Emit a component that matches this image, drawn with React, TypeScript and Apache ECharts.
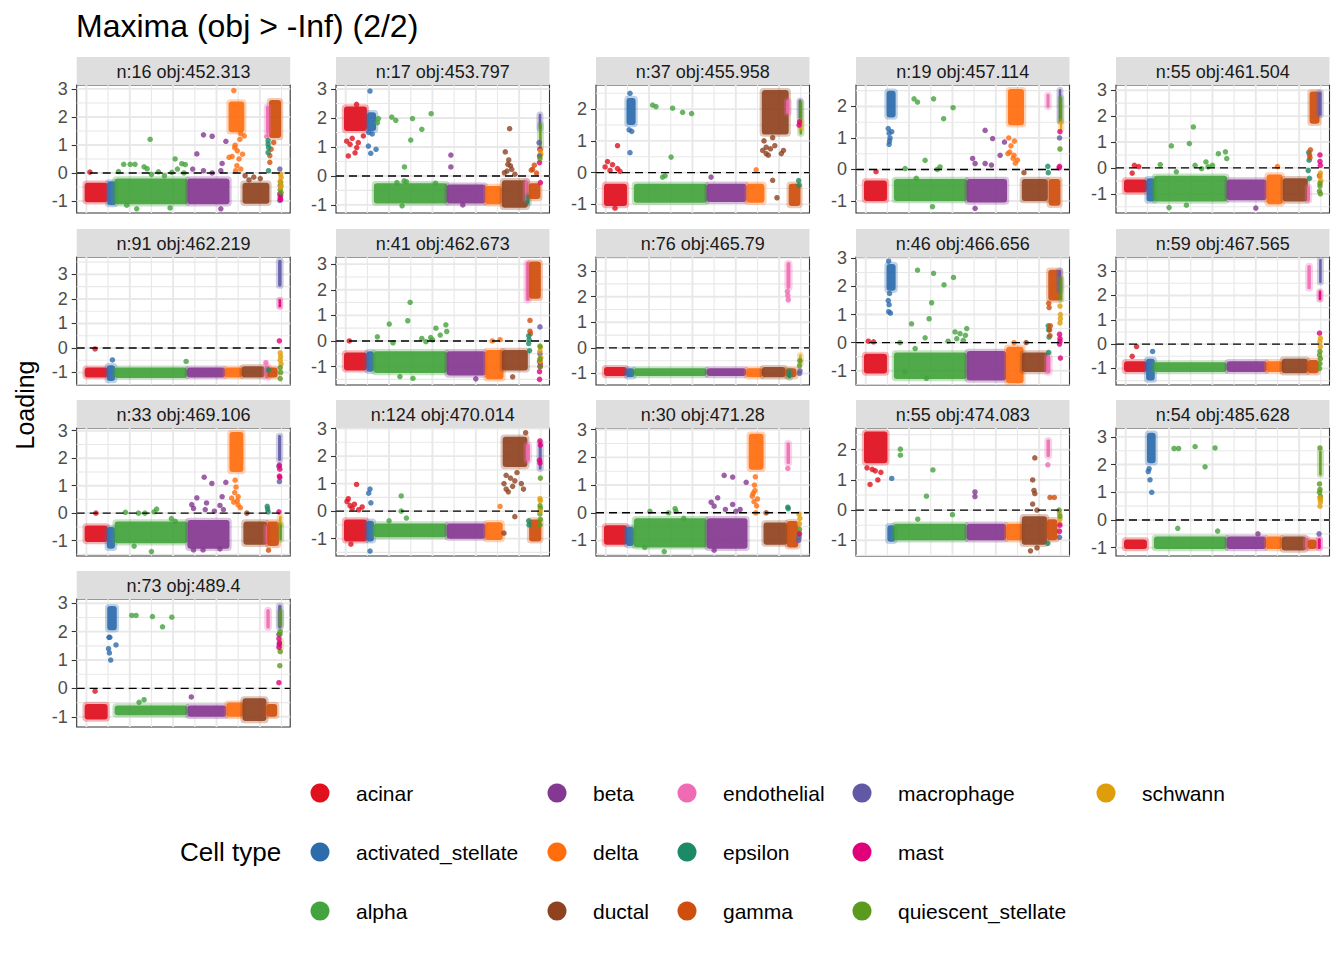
import React, { useEffect, useRef } from "react";
import * as echarts from "echarts";

// ---------- data ----------
const CELL_TYPES = ["acinar", "activated_stellate", "alpha", "beta", "delta", "ductal", "endothelial", "epsilon", "gamma", "macrophage", "mast", "quiescent_stellate", "schwann"];
const TYPE_COLORS = ["#E0101E", "#2D6CAC", "#43A33C", "#853891", "#FF6D0D", "#8F4220", "#F06AB4", "#1B8A66", "#CF4E0C", "#6159A6", "#E0007A", "#5A9A1C", "#E09D0A"];

const PANEL_TITLES = ["n:16 obj:452.313", "n:17 obj:453.797", "n:37 obj:455.958", "n:19 obj:457.114", "n:55 obj:461.504", "n:91 obj:462.219", "n:41 obj:462.673", "n:76 obj:465.79", "n:46 obj:466.656", "n:59 obj:467.565", "n:33 obj:469.106", "n:124 obj:470.014", "n:30 obj:471.28", "n:55 obj:474.083", "n:54 obj:485.628", "n:73 obj:489.4"];

const PANEL_Y_RANGES = [[-1.43, 3.14], [-1.28, 3.14], [-1.27, 2.76], [-1.38, 2.68], [-1.74, 3.2], [-1.51, 3.71], [-1.72, 3.28], [-1.45, 3.55], [-1.51, 3.05], [-1.68, 3.58], [-1.56, 3.1], [-1.63, 3.02], [-1.56, 3.06], [-1.52, 2.72], [-1.3, 3.32], [-1.36, 3.15]];
const Y_TICKS = [-1, 0, 1, 2, 3];
const X_MAJOR = [0, 1000, 2000, 3000, 4000];
const X_MINOR = [500, 1500, 2500, 3500, 4500];
const X_RANGE = [-224, 4700];

// clusters: [type, xStart, xEnd, yLow, yHigh]; points: [type, x, y]
const P1_BANDS = [[0, -40, 490, -1.05, -0.35], [1, 480, 680, -1.15, -0.3], [2, 650, 2340, -1.12, -0.2], [3, 2330, 3300, -1.12, -0.2], [4, 3280, 3640, 1.45, 2.55], [5, 3600, 4220, -1.1, -0.35], [8, 4210, 4490, 1.25, 2.6], [6, 4140, 4210, 1.4, 2.4]];
const P1_POINTS = [[0, 80, 0.03], [2, 1470, 1.2], [2, 860, 0.31], [2, 1010, 0.31], [2, 1120, 0.31], [2, 1330, 0.22], [2, 1400, 0.15], [2, 2046, 0.5], [2, 2200, 0.33], [2, 2280, 0.3], [2, 2100, 0.14], [2, 740, 0.05], [2, 1660, 0.04], [2, 1970, 0.02], [2, 1160, -1.28], [2, 1930, -1.25], [2, 930, -1.15], [2, 1500, -0.05], [2, 1800, -0.1], [2, 2250, 0.0], [3, 2700, 1.36], [3, 2900, 1.31], [3, 2547, 0.68], [3, 3217, 1.13], [3, 3130, 0.34], [3, 3100, 0.08], [3, 2700, 0.08], [3, 2450, 0.14], [3, 3100, -1.28], [3, 2900, 0.0], [4, 3400, 2.94], [4, 3560, 1.4], [4, 3430, 0.99], [4, 3480, 0.79], [4, 3600, 0.67], [4, 3360, 0.59], [4, 3290, 0.56], [4, 3520, 0.5], [4, 3470, 0.26], [4, 3560, 0.14], [4, 3440, 0.08], [4, 3640, 1.32], [4, 3420, 0.9], [4, 3540, 1.2], [5, 3660, -0.1], [5, 3860, -0.15], [5, 4010, -0.2], [5, 3750, -0.25], [8, 4230, 0.62], [8, 4230, 0.38], [8, 4320, 1.09], [8, 4260, 0.85], [6, 4160, 1.3], [7, 4190, 1.15], [7, 4190, 1.03], [7, 4200, 0.91], [7, 4190, 0.73], [7, 4200, 0.08], [9, 4460, 0.14], [9, 4470, -0.45], [9, 4480, -0.8], [9, 4460, -0.98], [10, 4470, -0.87], [10, 4460, -0.75], [10, 4480, -0.95], [11, 4480, -0.33], [11, 4470, -0.6], [11, 4490, -0.7], [12, 4480, -0.04], [12, 4490, -0.16], [12, 4470, -0.3], [12, 4480, -0.5], [12, 4490, -0.45]];

const P2_BANDS = [[0, -40, 490, 1.55, 2.4], [1, 490, 700, 1.55, 2.2], [2, 650, 2340, -0.95, -0.25], [3, 2330, 3230, -0.95, -0.3], [4, 3220, 3600, -0.98, -0.35], [5, 3600, 4200, -1.1, -0.15], [6, 4130, 4210, -0.85, -0.15], [7, 4170, 4240, -0.98, -0.65], [8, 4220, 4490, -0.8, -0.25], [9, 4450, 4510, 1.6, 2.15], [11, 4460, 4520, 0.9, 1.8]];
const P2_POINTS = [[0, 22, 1.2], [0, 100, 1.09], [0, 254, 0.98], [0, 60, 0.69], [0, 215, 0.8], [0, 407, 1.38], [0, 290, 1.15], [0, 250, 2.47], [0, 150, 1.3], [1, 560, 2.93], [1, 523, 1.03], [1, 577, 0.78], [1, 700, 0.92], [1, 530, 1.5], [1, 610, 1.45], [2, 754, 1.98], [2, 731, 1.84], [2, 1062, 2.03], [2, 1155, 1.92], [2, 1540, 1.98], [2, 1970, 2.15], [2, 1755, 1.61], [2, 1500, 1.24], [2, 1355, 0.31], [2, 1347, -0.17], [2, 1400, -0.2], [2, 1180, -0.23], [2, 2070, -0.25], [2, 1300, -1.03], [3, 2425, 0.72], [3, 2425, 0.31], [3, 2700, -1.0], [5, 3780, 1.63], [5, 3680, 0.83], [5, 3760, 0.55], [5, 3740, 0.4], [5, 3800, 0.35], [5, 3660, 0.11], [5, 3720, 0.17], [5, 3830, 0.23], [5, 3900, 0.06], [8, 4310, 0.23], [8, 4350, 0.37], [8, 4280, 0.2], [8, 4400, 0.1], [10, 4480, 0.92], [10, 4470, 0.46], [10, 4490, -0.23], [12, 4490, 0.86], [12, 4500, 0.75], [12, 4480, 0.69], [9, 4460, 1.15], [9, 4470, 0.69], [11, 4480, 0.6]];

const P3_BANDS = [[0, -40, 490, -1.05, -0.35], [1, 480, 690, 1.5, 2.35], [2, 650, 2340, -0.95, -0.35], [3, 2330, 3250, -0.92, -0.35], [4, 3250, 3660, -0.95, -0.35], [5, 3600, 4220, 1.2, 2.6], [8, 4220, 4490, -1.05, -0.35], [6, 4160, 4240, 1.85, 2.3], [9, 4450, 4510, 1.7, 2.3], [11, 4470, 4530, 1.2, 2.25], [12, 4480, 4530, 1.35, 1.65]];
const P3_POINTS = [[0, 42, 0.35], [0, 157, 0.25], [0, -14, 0.18], [0, 272, 0.13], [0, 330, 0.04], [0, 100, 0.07], [0, 215, -1.12], [0, 272, 0.85], [1, 560, 2.5], [1, 540, 1.35], [1, 600, 1.3], [1, 560, 0.63], [2, 1081, 2.13], [2, 1160, 2.08], [2, 1543, 2.03], [2, 1773, 1.9], [2, 1980, 1.86], [2, 1508, 0.49], [2, 1370, -0.1], [2, 1310, -0.14], [3, 2430, -0.14], [4, 3470, 0.09], [5, 3650, 1.0], [5, 3700, 0.8], [5, 3620, 0.7], [5, 3800, 0.75], [5, 3900, 0.85], [5, 4100, 0.7], [5, 4050, 0.6], [5, 3750, 0.55], [5, 3850, 1.1], [5, 3700, 0.6], [5, 3850, -0.24], [5, 3950, -0.79], [10, 4460, 1.5], [10, 4470, 1.6], [7, 4450, -0.25], [7, 4460, -0.4]];

const P4_BANDS = [[0, -40, 490, -1.0, -0.35], [1, 480, 690, 1.65, 2.5], [2, 650, 2340, -1.0, -0.3], [3, 2330, 3260, -1.05, -0.3], [4, 3280, 3650, 1.4, 2.55], [5, 3600, 4200, -1.0, -0.3], [8, 4220, 4490, -1.15, -0.3], [6, 4170, 4240, 1.95, 2.4], [9, 4450, 4510, 1.5, 2.55], [11, 4470, 4530, 1.5, 2.3], [12, 4480, 4530, 1.25, 1.55]];
const P4_POINTS = [[0, 238, -0.07], [1, 520, 1.3], [1, 540, 1.15], [1, 560, 1.0], [1, 540, 0.8], [1, 600, 1.2], [1, 550, 0.9], [2, 1115, 2.24], [2, 1195, 2.14], [2, 1565, 2.24], [2, 2015, 1.96], [2, 1797, 1.61], [2, 1370, 0.29], [2, 909, 0.03], [2, 1715, 0.08], [2, 1650, 0.0], [2, 1540, -1.18], [2, 1166, -0.28], [3, 2754, 1.24], [3, 2927, 0.98], [3, 3100, 0.45], [3, 2465, 0.35], [3, 2523, 0.19], [3, 2754, 0.19], [3, 2900, 0.14], [3, 3200, 0.87], [3, 2523, -1.23], [4, 3300, 1.0], [4, 3350, 0.75], [4, 3320, 0.55], [4, 3400, 0.35], [4, 3450, 0.2], [4, 3420, 0.45], [4, 3280, 0.5], [4, 3500, 0.3], [4, 3430, 0.9], [5, 3650, -0.1], [10, 4460, 0.05], [10, 4470, 0.1], [10, 4480, 1.2], [7, 4200, 0.1], [7, 4210, -0.1], [9, 4470, 1.0], [11, 4480, 0.65]];

const P5_BANDS = [[0, -40, 490, -0.95, -0.45], [1, 480, 680, -1.3, -0.4], [2, 650, 2340, -1.3, -0.3], [3, 2330, 3250, -1.25, -0.45], [4, 3250, 3620, -1.4, -0.25], [5, 3620, 4200, -1.3, -0.4], [6, 4180, 4250, -1.3, -0.7], [8, 4240, 4470, 1.7, 2.95], [9, 4440, 4520, 2.0, 2.95]];
const P5_POINTS = [[0, 300, 0.05], [0, 200, 0.1], [0, 150, -0.2], [2, 1052, 0.85], [2, 1468, 0.94], [2, 1560, 1.58], [2, 797, 0.13], [2, 1167, -0.15], [2, 2137, 0.55], [2, 2300, 0.62], [2, 1850, 0.23], [2, 2000, 0.1], [2, 1900, 0.04], [2, 2330, 0.36], [2, 1750, -0.03], [2, 1600, 0.1], [2, 1000, -1.53], [2, 1400, -1.44], [3, 3000, -1.55], [4, 3500, 0.05], [7, 4220, 0.6], [7, 4230, 0.3], [7, 4210, -0.1], [7, 4240, -0.4], [8, 4250, 0.4], [8, 4260, 0.7], [8, 4240, 0.5], [10, 4480, 0.5], [10, 4490, 0.1], [10, 4470, -0.3], [10, 4480, 0.25], [12, 4490, -0.2], [12, 4480, -0.35], [12, 4500, -0.5], [11, 4480, -0.7], [11, 4470, -0.9], [11, 4490, -1.0], [11, 4480, -0.6]];

const P6_BANDS = [[0, -40, 490, -1.2, -0.8], [1, 470, 660, -1.35, -0.7], [2, 650, 2320, -1.22, -0.8], [3, 2320, 3200, -1.2, -0.8], [4, 3190, 3590, -1.2, -0.8], [5, 3580, 4110, -1.2, -0.75], [6, 4110, 4220, -1.25, -0.7], [8, 4170, 4410, -1.2, -0.8], [9, 4420, 4500, 2.5, 3.6], [10, 4430, 4490, 1.65, 2.0]];
const P6_POINTS = [[0, 200, -0.04], [1, 600, -0.49], [2, 2300, -0.55], [6, 4140, -0.6], [10, 4450, 0.29], [12, 4470, -0.2], [12, 4480, -0.35], [12, 4470, -0.5], [12, 4490, -0.65], [11, 4470, -0.8], [11, 4480, -1.0], [11, 4470, -1.25], [7, 4200, -0.9]];

const P7_BANDS = [[0, -40, 490, -1.15, -0.45], [1, 480, 650, -1.2, -0.4], [2, 650, 2340, -1.25, -0.4], [3, 2330, 3230, -1.35, -0.4], [4, 3220, 3640, -1.5, -0.35], [5, 3600, 4200, -1.15, -0.35], [6, 4150, 4240, 1.55, 3.1], [8, 4230, 4500, 1.65, 3.1]];
const P7_POINTS = [[0, 83, 0.0], [2, 1486, 1.51], [2, 1004, 0.66], [2, 1431, 0.79], [2, 730, 0.16], [2, 1090, -0.07], [2, 1755, 0.1], [2, 1960, 0.13], [2, 2080, 0.5], [2, 2310, 0.63], [2, 2330, 0.37], [2, 2180, 0.23], [2, 2000, 0.04], [2, 1850, -0.03], [2, 1550, -1.46], [2, 1250, -1.39], [3, 3000, -1.48], [4, 3380, 0.0], [4, 3560, 0.05], [5, 3850, -1.4], [8, 4250, 0.8], [8, 4250, 0.38], [8, 4260, 0.28], [7, 4220, 0.2], [7, 4230, 0.05], [7, 4220, -0.1], [7, 4240, -0.38], [9, 4480, 0.55], [9, 4470, -0.8], [9, 4480, -0.5], [10, 4480, -1.0], [10, 4470, -1.2], [10, 4470, -1.5], [10, 4490, -0.9], [12, 4490, -0.25], [12, 4480, -0.4], [12, 4500, -0.65], [12, 4490, -0.8], [11, 4480, -0.2], [11, 4480, -0.7], [11, 4490, -1.0]];

const P8_BANDS = [[0, -40, 490, -1.1, -0.75], [1, 470, 660, -1.15, -0.8], [2, 650, 2330, -1.1, -0.8], [3, 2330, 3240, -1.1, -0.8], [4, 3240, 3620, -1.15, -0.8], [5, 3600, 4150, -1.15, -0.75], [8, 4150, 4400, -1.15, -0.8], [7, 4200, 4270, -1.2, -0.85], [6, 4170, 4260, 2.3, 3.35], [12, 4460, 4520, -0.65, -0.25]];
const P8_POINTS = [[6, 4200, 2.05], [6, 4210, 1.88], [6, 4190, 2.2], [9, 4470, -1.0], [9, 4480, -0.9], [11, 4470, -0.7], [11, 4480, -0.5]];

const P9_BANDS = [[0, -40, 490, -1.1, -0.4], [1, 480, 690, 1.85, 2.8], [2, 650, 2330, -1.3, -0.35], [3, 2330, 3240, -1.35, -0.3], [4, 3240, 3640, -1.45, -0.15], [5, 3600, 4200, -1.05, -0.35], [6, 4160, 4260, -1.1, -0.45], [8, 4210, 4500, 1.5, 2.6], [9, 4440, 4510, 1.8, 2.6], [11, 4470, 4530, 1.5, 2.3]];
const P9_POINTS = [[0, 60, 0.05], [0, 180, 0.03], [1, 520, 1.5], [1, 540, 1.35], [1, 530, 1.1], [1, 570, 1.05], [1, 550, 1.75], [1, 530, 2.9], [2, 1195, 2.58], [2, 1565, 2.47], [2, 2025, 2.32], [2, 1806, 2.06], [2, 1520, 1.42], [2, 1462, 0.85], [2, 1057, 0.67], [2, 1370, 0.17], [2, 790, 0.0], [2, 2060, 0.38], [2, 2176, 0.32], [2, 2330, 0.5], [2, 2300, 0.26], [2, 1900, 0.05], [2, 2250, 0.08], [2, 2100, 0.14], [2, 1140, -0.21], [2, 900, -1.04], [2, 1400, -1.27], [4, 3420, 0.0], [5, 3700, 0.0], [8, 4220, 1.4], [8, 4230, 1.25], [12, 4480, 1.3], [12, 4490, 1.0], [12, 4490, 0.85], [12, 4480, 0.7], [10, 4470, 0.3], [10, 4480, 0.05], [10, 4470, -0.05], [10, 4490, -0.55], [10, 4480, 0.15], [7, 4210, 0.6], [7, 4220, 0.45], [7, 4230, 0.2], [7, 4220, -0.35], [8, 4240, 0.45], [8, 4250, 0.25], [8, 4260, 0.6]];

const P10_BANDS = [[0, -40, 490, -1.15, -0.7], [1, 470, 670, -1.5, -0.6], [2, 650, 2330, -1.15, -0.75], [3, 2330, 3260, -1.15, -0.7], [4, 3240, 3620, -1.15, -0.7], [5, 3600, 4200, -1.2, -0.6], [8, 4200, 4450, -1.2, -0.65], [6, 4190, 4270, 2.25, 3.25], [9, 4460, 4520, 2.5, 3.5], [10, 4450, 4510, 1.8, 2.2]];
const P10_POINTS = [[0, 250, -0.1], [0, 150, -0.5], [1, 620, -0.3], [10, 4470, 0.45], [12, 4490, 0.25], [12, 4480, 0.1], [12, 4490, -0.1], [11, 4480, -0.3], [11, 4470, -0.45], [11, 4490, -0.6], [11, 4480, -0.8], [11, 4470, -1.0]];

const P11_BANDS = [[0, -40, 490, -1.05, -0.45], [1, 470, 660, -1.3, -0.5], [2, 650, 2330, -1.1, -0.3], [3, 2330, 3300, -1.3, -0.25], [4, 3300, 3620, 1.5, 2.95], [5, 3620, 4170, -1.15, -0.3], [6, 4130, 4220, -1.1, -0.45], [8, 4170, 4440, -1.2, -0.3], [9, 4420, 4490, 1.9, 2.85], [12, 4440, 4500, -0.45, -0.1], [11, 4450, 4510, -1.0, -0.4]];
const P11_POINTS = [[0, 220, 0.0], [2, 900, 0.03], [2, 1200, 0.0], [2, 1350, 0.0], [2, 1560, 0.05], [2, 1620, 0.15], [2, 1960, -0.2], [2, 2050, -0.3], [2, 1500, -1.4], [2, 1100, -1.2], [3, 2716, 1.31], [3, 2893, 1.08], [3, 3216, 1.12], [3, 2547, 0.56], [3, 2770, 0.37], [3, 3130, 0.6], [3, 2430, 0.31], [3, 2470, 0.17], [3, 2740, 0.13], [3, 3080, 0.28], [3, 3160, 0.13], [3, 2950, 0.07], [3, 2470, -1.34], [3, 2690, -1.34], [3, 3080, -1.3], [4, 3430, 1.2], [4, 3450, 0.95], [4, 3420, 0.75], [4, 3350, 0.55], [4, 3500, 0.6], [4, 3400, 0.4], [4, 3500, 0.3], [4, 3550, 0.2], [4, 3480, 0.45], [5, 3700, 0.0], [8, 4200, -1.35], [7, 4170, 0.25], [7, 4180, 0.15], [7, 4190, 0.05], [9, 4440, 1.7], [9, 4450, 1.15], [10, 4450, 1.75], [10, 4460, 1.6], [10, 4450, 1.35], [10, 4460, 1.3], [10, 4440, 0.05]];

const P12_BANDS = [[0, -40, 490, -1.1, -0.3], [1, 480, 650, -1.1, -0.35], [2, 650, 2330, -0.95, -0.45], [3, 2330, 3230, -1.0, -0.45], [4, 3220, 3620, -1.05, -0.4], [5, 3620, 4190, 1.6, 2.7], [6, 4150, 4250, 1.8, 2.45], [8, 4230, 4510, -1.1, -0.3], [9, 4450, 4520, 1.5, 2.5]];
const P12_POINTS = [[0, 60, 0.45], [0, 30, 0.35], [0, 100, 0.2], [0, 200, 0.25], [0, 150, 0.1], [0, 300, 0.05], [0, 380, 0.15], [0, 250, 0.97], [0, 120, -1.2], [1, 560, 0.8], [1, 530, 0.65], [1, 580, 0.3], [1, 560, -1.45], [2, 1280, 0.55], [2, 1280, 0.0], [2, 1400, -0.25], [2, 1000, -0.35], [4, 3560, 0.17], [5, 3700, 1.3], [5, 3650, 1.0], [5, 3700, 0.8], [5, 3750, 0.7], [5, 3850, 0.9], [5, 3900, 1.1], [5, 3800, 1.2], [5, 4100, 0.8], [5, 4050, 1.0], [5, 3950, 1.4], [5, 4150, 2.85], [5, 3650, -0.8], [5, 3900, -0.2], [7, 4220, -0.35], [7, 4230, -0.5], [10, 4480, 2.55], [10, 4470, 1.85], [10, 4480, 1.75], [10, 4490, 2.4], [11, 4490, 1.2], [11, 4480, 0.2], [11, 4490, 0.1], [11, 4480, -0.1], [11, 4490, -0.3], [11, 4480, -0.5], [12, 4480, 0.45], [12, 4490, 0.38], [12, 4480, 0.0]];

const P13_BANDS = [[0, -40, 490, -1.15, -0.45], [1, 470, 650, -1.2, -0.5], [2, 650, 2330, -1.25, -0.2], [3, 2330, 3270, -1.3, -0.2], [4, 3300, 3640, 1.55, 2.85], [5, 3640, 4190, -1.15, -0.35], [8, 4180, 4440, -1.25, -0.3], [6, 4170, 4250, 1.75, 2.55]];
const P13_POINTS = [[2, 1020, 0.05], [2, 1450, 0.0], [2, 1600, 0.15], [2, 1620, 0.05], [2, 1800, -0.2], [2, 1350, -1.4], [2, 900, -1.25], [3, 2732, 1.35], [3, 2928, 1.29], [3, 3240, 1.1], [3, 2582, 0.54], [3, 2432, 0.38], [3, 2500, 0.24], [3, 2928, 0.3], [3, 2760, 0.12], [3, 3100, 0.12], [3, 3000, 0.05], [3, 2500, -1.35], [4, 3450, 1.3], [4, 3430, 1.0], [4, 3440, 0.8], [4, 3380, 0.6], [4, 3420, 0.4], [4, 3480, 0.25], [4, 3500, 0.5], [4, 3460, 0.0], [4, 3400, 0.7], [5, 3700, 0.0], [6, 4200, 1.6], [7, 4200, 0.2], [7, 4210, 0.15], [12, 4460, -0.05], [12, 4470, -0.4], [12, 4480, -0.2], [11, 4470, -0.6], [11, 4460, -0.8], [9, 4450, -1.0], [9, 4460, -0.9], [10, 4470, -0.75]];

const P14_BANDS = [[0, -40, 500, 1.55, 2.6], [1, 500, 680, -1.05, -0.5], [2, 650, 2330, -1.0, -0.45], [3, 2330, 3240, -1.0, -0.45], [4, 3240, 3620, -1.0, -0.45], [5, 3600, 4180, -1.15, -0.2], [8, 4180, 4420, -1.0, -0.3], [6, 4170, 4250, 1.75, 2.35]];
const P14_POINTS = [[0, 150, 1.35], [0, 220, 1.3], [0, 100, 0.85], [0, 280, 1.0], [0, 350, 1.25], [0, 30, 1.4], [1, 600, 1.05], [2, 800, 2.02], [2, 800, 1.82], [2, 1550, 1.33], [2, 1400, 0.46], [2, 2000, -0.15], [2, 1200, -0.3], [3, 2520, 0.6], [3, 2520, 0.45], [5, 3900, 1.73], [5, 3850, 1.0], [5, 3880, 0.65], [5, 3900, 0.55], [5, 3850, 0.2], [5, 3950, 0.0], [5, 3800, -1.35], [5, 3950, -1.25], [8, 4250, 0.42], [8, 4350, 0.42], [6, 4200, 1.5], [7, 4200, -1.1], [12, 4470, -0.1], [12, 4480, -0.3], [12, 4470, -0.45], [11, 4460, 0.0], [11, 4480, -0.2], [10, 4470, -0.7], [10, 4480, -0.5], [9, 4470, -0.9]];

const P15_BANDS = [[0, -40, 490, -1.05, -0.7], [1, 490, 690, 2.05, 3.15], [2, 650, 2330, -1.05, -0.6], [3, 2330, 3240, -1.05, -0.6], [4, 3240, 3600, -1.05, -0.6], [5, 3600, 4160, -1.1, -0.6], [6, 4140, 4220, -1.05, -0.65], [8, 4200, 4400, -1.05, -0.7], [10, 4430, 4500, -1.05, -0.65], [11, 4460, 4520, 1.6, 2.5]];
const P15_POINTS = [[1, 520, 1.75], [1, 540, 1.85], [1, 560, 1.45], [1, 600, 1.0], [2, 1115, 2.58], [2, 1219, 2.58], [2, 1600, 2.65], [2, 1830, 1.92], [2, 2060, 2.6], [2, 1200, -0.3], [2, 2120, -0.4], [3, 3050, -0.5], [9, 4460, -0.5], [11, 4480, 1.1], [11, 4470, 1.0], [11, 4490, 0.85], [11, 4480, 2.6], [11, 4470, 1.3], [12, 4480, 0.8], [12, 4490, 0.65], [12, 4480, 0.5], [12, 4490, 0.75]];

const P16_BANDS = [[0, -40, 490, -1.1, -0.55], [1, 480, 700, 2.05, 2.9], [2, 650, 2330, -0.95, -0.6], [3, 2330, 3230, -1.0, -0.6], [4, 3230, 3620, -1.0, -0.5], [5, 3600, 4150, -1.15, -0.35], [8, 4150, 4400, -1.0, -0.55], [6, 4150, 4230, 2.1, 2.8], [9, 4420, 4500, 2.1, 2.95], [11, 4440, 4510, 2.2, 2.75], [12, 4460, 4510, 1.4, 1.7]];
const P16_POINTS = [[0, 200, -0.1], [1, 520, 1.8], [1, 540, 1.8], [1, 510, 1.4], [1, 530, 1.25], [1, 560, 1.0], [1, 683, 1.53], [2, 1045, 2.57], [2, 1145, 2.57], [2, 1523, 2.53], [2, 1755, 2.17], [2, 1970, 2.51], [2, 1215, -0.49], [2, 1330, -0.4], [3, 2420, -0.3], [9, 4440, 1.9], [9, 4450, 1.55], [11, 4460, 1.9], [11, 4470, 1.3], [11, 4460, 0.8], [11, 4470, 2.0], [10, 4440, 1.75], [10, 4450, 1.6], [10, 4440, 1.45], [10, 4440, 0.2]];

const PANEL_BANDS = [P1_BANDS, P2_BANDS, P3_BANDS, P4_BANDS, P5_BANDS, P6_BANDS, P7_BANDS, P8_BANDS, P9_BANDS, P10_BANDS, P11_BANDS, P12_BANDS, P13_BANDS, P14_BANDS, P15_BANDS, P16_BANDS];
const PANEL_POINTS = [P1_POINTS, P2_POINTS, P3_POINTS, P4_POINTS, P5_POINTS, P6_POINTS, P7_POINTS, P8_POINTS, P9_POINTS, P10_POINTS, P11_POINTS, P12_POINTS, P13_POINTS, P14_POINTS, P15_POINTS, P16_POINTS];

// ---------- layout ----------
const FONT = "'Liberation Sans', Arial, Helvetica, sans-serif";
const COL_LEFT = [76.7, 336, 596, 856, 1116];
const ROW_TOP = [85, 257, 428, 599];
const PANEL_W = 213.5;
const PANEL_H = 128;
const STRIP_H = 28;
const LEGEND_DOT_X = [320, 557, 687, 862, 1106];
const LEGEND_TEXT_X = [356, 593, 723, 898, 1142];
const LEGEND_ROW_Y = [793, 852, 911];

function buildOption() {
  const grids: any[] = [];
  const xAxes: any[] = [];
  const yAxes: any[] = [];
  const series: any[] = [];
  const graphics: any[] = [];

  PANEL_TITLES.forEach((title, i) => {
    const col = i % 5;
    const row = Math.floor(i / 5);
    const left = COL_LEFT[col];
    const top = ROW_TOP[row];
    const [lo, hi] = PANEL_Y_RANGES[i];
    const ticks = Y_TICKS.filter((v) => v >= lo && v <= hi);

    grids.push({ left, top, width: PANEL_W, height: PANEL_H, show: true, borderColor: "#333333", borderWidth: 1.1, backgroundColor: "#ffffff" });
    xAxes.push({ gridIndex: i, type: "value", min: X_RANGE[0], max: X_RANGE[1], show: false, axisLine: { onZero: false } });
    yAxes.push({
      gridIndex: i, type: "value", min: lo, max: hi,
      axisLine: { show: false, onZero: false },
      axisTick: { show: true, length: 5, lineStyle: { color: "#333333", width: 1.1 }, customValues: ticks },
      axisLabel: { show: true, customValues: ticks, fontSize: 18, color: "#4d4d4d", margin: 9, fontFamily: FONT },
      splitLine: { show: false },
      minorSplitLine: { show: false },
    });

    const gridData: number[][] = [];
    X_MINOR.forEach((v) => gridData.push([1, v]));
    X_MAJOR.forEach((v) => gridData.push([0, v]));
    for (let v = Math.ceil(lo * 2) / 2; v <= hi; v += 0.5) {
      gridData.push([Number.isInteger(v) ? 2 : 3, v]);
    }

    series.push({
      type: "custom", xAxisIndex: i, yAxisIndex: i, z: 1, silent: true, clip: true,
      data: gridData,
      renderItem: (_p: any, api: any) => {
        const kind = api.value(0);
        const v = api.value(1);
        let a, b;
        if (kind < 2) { a = api.coord([v, lo]); b = api.coord([v, hi]); }
        else { a = api.coord([X_RANGE[0], v]); b = api.coord([X_RANGE[1], v]); }
        const major = kind === 0 || kind === 2;
        return { type: "line", shape: { x1: a[0], y1: a[1], x2: b[0], y2: b[1] }, style: { stroke: "#e8e8e8", lineWidth: major ? 1.9 : 1.1 } };
      },
    });

    series.push({
      type: "custom", xAxisIndex: i, yAxisIndex: i, z: 2, silent: true, clip: true,
      data: PANEL_BANDS[i],
      renderItem: (_p: any, api: any) => {
        const t = api.value(0);
        const a = api.coord([api.value(1), api.value(4)]);
        const b = api.coord([api.value(2), api.value(3)]);
        const c = TYPE_COLORS[t];
        const w = b[0] - a[0];
        const h = b[1] - a[1];
        return {
          type: "group",
          children: [
            { type: "rect", shape: { x: a[0] - 2.2, y: a[1] - 2.2, width: w + 4.4, height: h + 4.4, r: 4 }, style: { fill: c, opacity: 0.3 } },
            { type: "rect", shape: { x: a[0], y: a[1], width: w, height: h, r: 3 }, style: { fill: c, opacity: 0.9 } },
          ],
        };
      },
    });

    series.push({
      type: "scatter", xAxisIndex: i, yAxisIndex: i, z: 3, silent: true,
      symbolSize: 5.5,
      data: PANEL_POINTS[i].map((p) => ({ value: [p[1], p[2]], itemStyle: { color: TYPE_COLORS[p[0]], opacity: 0.8 } })),
    });

    series.push({
      type: "custom", xAxisIndex: i, yAxisIndex: i, z: 4, silent: true, clip: true,
      data: [[0, 0]],
      renderItem: (_p: any, api: any) => {
        const a = api.coord([X_RANGE[0], 0]);
        const b = api.coord([X_RANGE[1], 0]);
        return { type: "line", shape: { x1: a[0], y1: a[1], x2: b[0], y2: b[1] }, style: { stroke: "#000000", lineWidth: 1.4, lineDash: [8, 5] } };
      },
    });

    graphics.push({ type: "rect", shape: { x: left, y: top - STRIP_H, width: PANEL_W, height: STRIP_H }, style: { fill: "#dedede" }, silent: true });
    graphics.push({
      type: "text", x: left + PANEL_W / 2, y: top - STRIP_H / 2 + 1, silent: true,
      style: { text: title, fontSize: 18, fontFamily: FONT, fill: "#1a1a1a", textAlign: "center", textVerticalAlign: "middle", align: "center", verticalAlign: "middle" },
    });
  });

  graphics.push({
    type: "text", x: 76, y: 26, silent: true,
    style: { text: "Maxima (obj > -Inf) (2/2)", fontSize: 32, fontFamily: FONT, fill: "#000000", textAlign: "left", textVerticalAlign: "middle", align: "left", verticalAlign: "middle" },
  });
  graphics.push({
    type: "text", x: 25, y: 405, rotation: Math.PI / 2, silent: true,
    style: { text: "Loading", fontSize: 25, fontFamily: FONT, fill: "#000000", textAlign: "center", textVerticalAlign: "middle", align: "center", verticalAlign: "middle" },
  });
  graphics.push({
    type: "text", x: 180, y: 852, silent: true,
    style: { text: "Cell type", fontSize: 26, fontFamily: FONT, fill: "#000000", textAlign: "left", textVerticalAlign: "middle", align: "left", verticalAlign: "middle" },
  });
  CELL_TYPES.forEach((name, k) => {
    const col = Math.floor(k / 3);
    const row = k % 3;
    graphics.push({ type: "circle", shape: { cx: LEGEND_DOT_X[col], cy: LEGEND_ROW_Y[row], r: 9.5 }, style: { fill: TYPE_COLORS[k] }, silent: true });
    graphics.push({
      type: "text", x: LEGEND_TEXT_X[col], y: LEGEND_ROW_Y[row], silent: true,
      style: { text: name, fontSize: 21, fontFamily: FONT, fill: "#000000", textAlign: "left", textVerticalAlign: "middle", align: "left", verticalAlign: "middle" },
    });
  });

  return {
    animation: false,
    backgroundColor: "#ffffff",
    textStyle: { fontFamily: FONT },
    grid: grids,
    xAxis: xAxes,
    yAxis: yAxes,
    series,
    graphic: { elements: graphics },
  };
}

export default function App() {
  const ref = useRef<HTMLDivElement>(null);
  useEffect(() => {
    if (!ref.current) return;
    const chart = echarts.init(ref.current, undefined, { renderer: "svg" });
    chart.setOption(buildOption() as any);
    return () => chart.dispose();
  }, []);
  return <div ref={ref} style={{ position: "fixed", left: 0, top: 0, width: 1344, height: 960, background: "#fff" }} />;
}
